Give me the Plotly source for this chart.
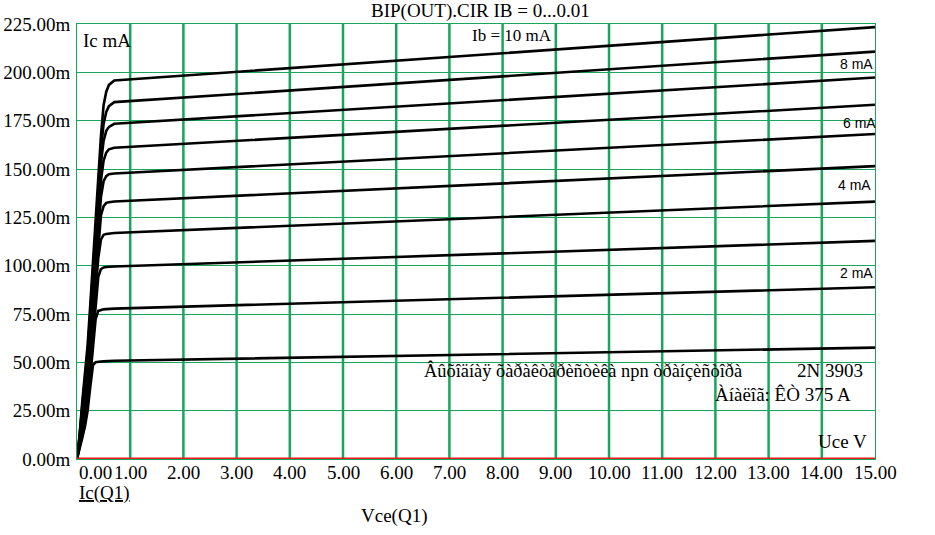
import plotly.graph_objects as go

# Vce sweep points (V) and collector current (mA) for Ib = 1..10 mA
vce = [0, 0.05, 0.1, 0.15, 0.2, 0.25, 0.3, 0.35, 0.4, 0.45, 0.5, 0.55, 0.6, 0.7, 15]

ic_1mA = [0, 5, 11, 17, 25, 37.5, 48.5, 50.0, 50.3, 50.4, 50.5, 50.6, 50.7, 50.8, 57.6]
ic_2mA = [0, 5.9, 13.1, 20, 28.8, 42.7, 57.6, 72.4, 76.6, 77.2, 77.4, 77.5, 77.6, 77.8, 88.8]
ic_3mA = [0, 6.8, 15.2, 23, 32.5, 47.3, 63.1, 80, 94.2, 98.2, 99.1, 99.3, 99.4, 99.6, 112.8]
ic_4mA = [0, 7.7, 17.3, 26, 36.3, 52, 68.7, 86.5, 104, 113.5, 116, 116.4, 116.6, 116.9, 133.1]
ic_5mA = [0, 8.6, 19.4, 29, 40.1, 56.6, 74.2, 92.9, 112, 126, 130.8, 132.5, 132.8, 133.2, 151.5]
ic_6mA = [0, 9.4, 21.6, 32, 43.9, 61.4, 79.8, 99, 119, 135.5, 143.7, 146.3, 147.3, 147.7, 168.1]
ic_7mA = [0, 10.3, 23.7, 35, 47.7, 66, 85.4, 105.4, 126, 144, 154.4, 158.5, 160.2, 161, 183.2]
ic_8mA = [0, 11.2, 25.8, 38, 51.5, 70.7, 90.9, 111.6, 132.5, 153, 164.5, 169.7, 171.8, 173.4, 197.3]
ic_9mA = [0, 12.1, 27.9, 41, 55.2, 75.3, 96.4, 117.8, 139.3, 160, 173.3, 179.5, 182.5, 184.6, 210.7]
ic_10mA = [0, 13, 30, 44, 59, 80, 102, 124, 146, 167, 183, 190, 193.5, 195.8, 223.4]

curves = [ic_1mA, ic_2mA, ic_3mA, ic_4mA, ic_5mA, ic_6mA, ic_7mA, ic_8mA, ic_9mA, ic_10mA]

x_ticks = list(range(0, 16))
x_tick_labels = ['%.2f' % v for v in x_ticks]
y_ticks = [0, 25, 50, 75, 100, 125, 150, 175, 200, 225]
y_tick_labels = ['%.2fm' % v for v in y_ticks]

# curve labels (text, Vce, Ic in mA)
curve_labels = [('8 mA', 14.65, 204.5), ('6 mA', 14.7, 174), ('4 mA', 14.62, 141.5), ('2 mA', 14.66, 96)]

GREEN = '#17a65b'
RED = '#e8191e'
SERIF = 'Liberation Serif, Times New Roman, serif'

fig = go.Figure()
for ic in curves:
    fig.add_trace(go.Scatter(x=vce, y=ic, mode='lines',
                             line=dict(color='black', width=2.6),
                             showlegend=False, hoverinfo='skip'))

# thick vertical grid lines (1..14 V)
for v in x_ticks[1:-1]:
    fig.add_vline(x=v, line=dict(color=GREEN, width=2.5), layer='below')

# red zero line
fig.add_shape(type='line', xref='paper', yref='y', x0=0, x1=1, y0=0, y1=0,
              line=dict(color=RED, width=3))

# x tick labels as annotations (first one left aligned)
for v, t in zip(x_ticks, x_tick_labels):
    fig.add_annotation(x=v, y=0, xref='x', yref='y', text=t, showarrow=False,
                       xanchor='left' if v == 0 else 'center', yanchor='top', yshift=-1,
                       font=dict(family=SERIF, size=19, color='black'))

for t, xv, yv in curve_labels:
    fig.add_annotation(x=xv, y=yv, xref='x', yref='y', text=t, showarrow=False,
                       font=dict(family='Liberation Sans, Arial, sans-serif', size=14, color='black'))

texts = [
    dict(x=0.005, y=0.962, text='Ic mA', xanchor='left', size=19),
    dict(x=0.545, y=0.973, text='Ib = 10 mA', xanchor='center', size=17),
    dict(x=0.432, y=0.203, text='Âûõîäíàÿ õàðàêòåðèñòèêà npn òðàíçèñòîðà', xanchor='left', size=18.4),
    dict(x=0.9875, y=0.203, text='2N 3903', xanchor='right', size=19),
    dict(x=0.972, y=0.149, text='Àíàëîã: ÊÒ 375 A', xanchor='right', size=19),
    dict(x=0.992, y=0.04, text='Uce V', xanchor='right', size=19),
]
for a in texts:
    fig.add_annotation(x=a['x'], y=a['y'], xref='paper', yref='paper', text=a['text'],
                       showarrow=False, xanchor=a['xanchor'], yanchor='middle',
                       font=dict(family=SERIF, size=a['size'], color='black'))

fig.add_annotation(x=0.506, y=1.029, xref='paper', yref='paper', text='BIP(OUT).CIR IB = 0...0.01',
                   showarrow=False, xanchor='center', yanchor='middle',
                   font=dict(family=SERIF, size=19, color='black'))
fig.add_annotation(x=0, y=-0.079, xref='paper', yref='paper', text='<u>Ic(Q1)</u>',
                   showarrow=False, xanchor='left', yanchor='middle',
                   font=dict(family=SERIF, size=19, color='black'))
fig.add_annotation(x=0.397, y=-0.131, xref='paper', yref='paper', text='Vce(Q1)',
                   showarrow=False, xanchor='center', yanchor='middle',
                   font=dict(family=SERIF, size=19, color='black'))

fig.update_xaxes(range=[0, 15], showgrid=False, showticklabels=False, zeroline=False,
                 showline=True, mirror=True, linecolor=GREEN, linewidth=1, ticks='',
                 automargin=False)
fig.update_yaxes(range=[0, 225], tickvals=y_ticks, ticktext=y_tick_labels,
                 showgrid=True, gridcolor=GREEN, gridwidth=1, zeroline=False,
                 showline=True, mirror=True, linecolor=GREEN, linewidth=1, ticks='',
                 ticklabelstandoff=2, automargin=False,
                 tickfont=dict(family=SERIF, size=19, color='black'))

fig.update_layout(
    width=935, height=535,
    margin=dict(l=77, r=60, t=24, b=76),
    plot_bgcolor='white', paper_bgcolor='white',
    showlegend=False,
)

# drop the default 8px page margin so the figure sits at the window corner
fig.write_html("out.html", config={'displayModeBar': False},
               post_script="document.body.style.margin='0';")
